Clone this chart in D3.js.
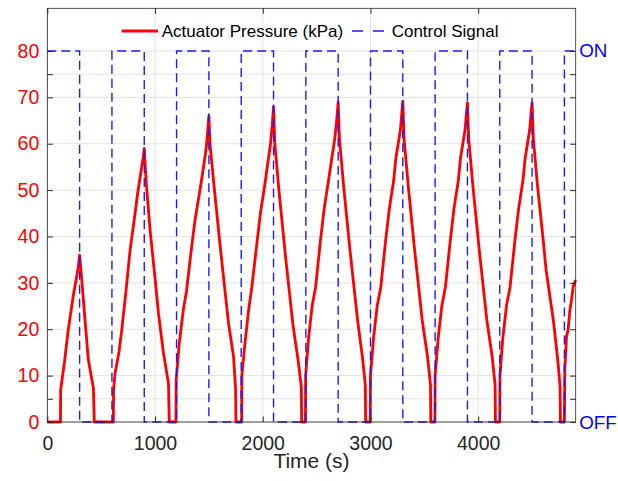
<!DOCTYPE html>
<html>
<head>
<meta charset="utf-8">
<script src="https://cdn.jsdelivr.net/npm/d3@7"></script>
<style>
    body { margin: 0; background: #fff; }
    svg { font-family: "Liberation Sans", Arial, Helvetica, sans-serif; }
</style>
</head>
<body>
<svg id="chart" width="618" height="481"></svg>
<script>
// axis ticks
const xTicks = [0, 1000, 2000, 3000, 4000];
const yTicks = [0, 5, 10, 20, 30, 40, 50, 60, 70, 75, 80];
const yLabelTicks = [0, 10, 20, 30, 40, 50, 60, 70, 80];
const signalLabels = ["OFF", "ON"];

// control signal, step after each time (1 = ON, 0 = OFF)
const signalTime  = [0, 300, 600, 900, 1200, 1500, 1800, 2100, 2400, 2700, 3000, 3300, 3600, 3900, 4200, 4500, 4800, 4905];
const signalState = [1, 0,   1,   0,   1,    0,    1,    0,    1,    0,    1,    0,    1,    0,    1,    0,    1,    1];

// actuator pressure (kPa), cycle by cycle
const pressureTime = [
    0, 122, 124, 160, 195, 242, 285, 300, 320, 350, 381, 428, 436,
    613, 615, 629, 666, 691, 731, 768, 815, 840, 870, 890, 900, 917, 954, 1000, 1032, 1078, 1125, 1132,
    1194, 1196, 1225, 1262, 1293, 1340, 1371, 1417, 1450, 1475, 1490, 1500, 1510, 1543, 1605, 1682, 1729, 1748, 1751,
    1804, 1806, 1835, 1868, 1898, 1943, 1978, 2018, 2048, 2072, 2088, 2100, 2112, 2150, 2210, 2280, 2330, 2358, 2361,
    2396, 2398, 2425, 2458, 2490, 2535, 2570, 2610, 2642, 2668, 2686, 2700, 2712, 2750, 2810, 2880, 2925, 2952, 2955,
    2998, 3000, 3028, 3062, 3095, 3140, 3175, 3215, 3236, 3254, 3278, 3292, 3300, 3312, 3350, 3410, 3480, 3530, 3557, 3560,
    3598, 3600, 3628, 3662, 3695, 3740, 3775, 3815, 3836, 3854, 3878, 3892, 3900, 3912, 3950, 4010, 4080, 4130, 4157, 4160,
    4200, 4202, 4228, 4262, 4295, 4340, 4375, 4415, 4436, 4454, 4478, 4492, 4500, 4512, 4550, 4600, 4630, 4700, 4740, 4760, 4763,
    4800, 4804, 4820, 4835, 4851, 4866, 4882, 4904
];
const pressureKPa = [
    0, 0, 7, 13, 20, 27.4, 33, 36, 30.6, 22, 13.4, 7.3, 0,
    0, 7, 10.5, 15.2, 19.8, 28.4, 37, 45, 49.6, 54, 57, 59, 52, 41.4, 31, 23.4, 14.9, 8.3, 0,
    0, 9, 17, 24.1, 28.4, 37.8, 43.5, 50, 55, 59, 63, 66, 60, 52, 37.8, 21.3, 14.1, 7, 0,
    0, 10, 17, 24, 29, 38, 45, 51, 56, 60, 64, 68, 60, 50, 36, 21, 13, 7.5, 0,
    0, 10, 18, 25, 29, 39, 46, 52, 57, 61, 65, 69, 61, 51, 37, 22, 14, 8, 0,
    0, 10, 18, 25, 29, 39, 46, 52, 57, 59.5, 63, 67, 69.2, 61, 51, 37, 22, 14, 8, 0,
    0, 10, 18, 25, 29, 39, 46, 52, 57, 59.5, 63, 67, 68.8, 61, 51, 37, 22, 14, 8, 0,
    0, 10, 18, 25, 29, 39, 46, 52, 57, 59.5, 63, 67, 68.8, 61, 51, 40, 32.8, 21.5, 13, 7.6, 0,
    0, 11.2, 18.4, 20, 24.1, 26.3, 29.2, 30.6
];

const margin = {top: 8.3, right: 42.3, bottom: 59, left: 47.3};
const W = 618, H = 481;
const w = W - margin.left - margin.right;
const h = H - margin.top - margin.bottom;

const axisGray = "#262626";
const gridGray = "#e3e3e3";

var svg = d3.select("#chart");
var g = svg.append("g")
    .attr("transform", "translate(" + margin.left + "," + margin.top + ")");

var x = d3.scaleLinear().domain([0, 4905]).range([0, w]);
var y = d3.scaleLinear().domain([0, 89.2]).range([h, 0]);
// right axis: ON sits at the same height as 80 kPa
var yR = d3.scaleLinear().domain([0, 89.2 / 80]).range([h, 0]);

// grid
g.append("g").selectAll("line")
    .data(xTicks)
    .enter().append("line")
    .attr("x1", d => x(d)).attr("x2", d => x(d))
    .attr("y1", 0).attr("y2", h)
    .attr("stroke", gridGray);
g.append("g").selectAll("line")
    .data(yTicks)
    .enter().append("line")
    .attr("x1", 0).attr("x2", w)
    .attr("y1", d => y(d)).attr("y2", d => y(d))
    .attr("stroke", gridGray);

// pressure
var pressure = pressureTime.map((t, i) => ({t: t, p: pressureKPa[i]}));
g.append("path")
    .datum(pressure)
    .attr("fill", "none")
    .attr("stroke", "#ff0000")
    .attr("stroke-width", 2.8)
    .attr("stroke-linejoin", "round")
    .attr("d", d3.line().x(d => x(d.t)).y(d => y(d.p)));

// control signal
var signal = signalTime.map((t, i) => ({t: t, s: signalState[i]}));
g.append("path")
    .datum(signal)
    .attr("fill", "none")
    .attr("stroke", "#1a1aff")
    .attr("stroke-width", 1.4)
    .attr("stroke-dasharray", "9,5")
    .attr("d", d3.line().curve(d3.curveStepAfter).x(d => x(d.t)).y(d => yR(d.s)));

// axes
function styleAxis(sel, color, size) {
    sel.select(".domain").remove();
    sel.selectAll(".tick line").attr("stroke", axisGray);
    sel.selectAll(".tick text")
        .attr("fill", color)
        .style("font-size", (size || 19.5) + "px");
}

g.append("g")
    .attr("transform", "translate(0," + h + ")")
    .call(d3.axisBottom(x).tickValues(xTicks).tickSize(-5.5).tickPadding(14)
        .tickFormat(d3.format("d")))
    .call(sel => styleAxis(sel, axisGray));

g.append("g")
    .call(d3.axisTop(x).tickValues(xTicks).tickSize(-5.5).tickFormat(""))
    .call(sel => styleAxis(sel, axisGray));

g.append("g")
    .call(d3.axisLeft(y).tickValues(yTicks).tickSize(-5.5).tickPadding(8)
        .tickFormat(d => yLabelTicks.includes(d) ? d : ""))
    .call(sel => styleAxis(sel, "#ff0000"));

g.append("g")
    .attr("transform", "translate(" + w + ",0)")
    .call(d3.axisRight(y).tickValues(yTicks).tickSize(-5.5).tickFormat(""))
    .call(sel => styleAxis(sel, axisGray));

g.append("g")
    .attr("transform", "translate(" + w + ",0)")
    .call(d3.axisRight(yR).tickValues([0, 1]).tickSize(0).tickPadding(3.5)
        .tickFormat(d => signalLabels[d]))
    .call(sel => styleAxis(sel, "#0000ff", 18.8));

// box
g.append("rect")
    .attr("width", w).attr("height", h)
    .attr("fill", "none")
    .attr("stroke", axisGray)
    .attr("stroke-width", 0.8);

// x label
g.append("text")
    .attr("x", w / 2)
    .attr("y", h + 46)
    .attr("text-anchor", "middle")
    .attr("fill", axisGray)
    .style("font-size", "21px")
    .text("Time (s)");

// legend
var leg = svg.append("g").attr("transform", "translate(0,31)");
leg.append("line")
    .attr("x1", 121.7).attr("x2", 158)
    .attr("stroke", "#ff0000").attr("stroke-width", 2.8);
leg.append("text")
    .attr("x", 161.7).attr("dy", "0.35em")
    .style("font-size", "17px")
    .attr("fill", "#000")
    .text("Actuator Pressure (kPa)");
leg.append("line")
    .attr("x1", 352).attr("x2", 384)
    .attr("stroke", "#1a1aff").attr("stroke-width", 1.4)
    .attr("stroke-dasharray", "11,10");
leg.append("text")
    .attr("x", 391.7).attr("dy", "0.35em")
    .style("font-size", "17px")
    .attr("fill", "#000")
    .text("Control Signal");
</script>
</body>
</html>
